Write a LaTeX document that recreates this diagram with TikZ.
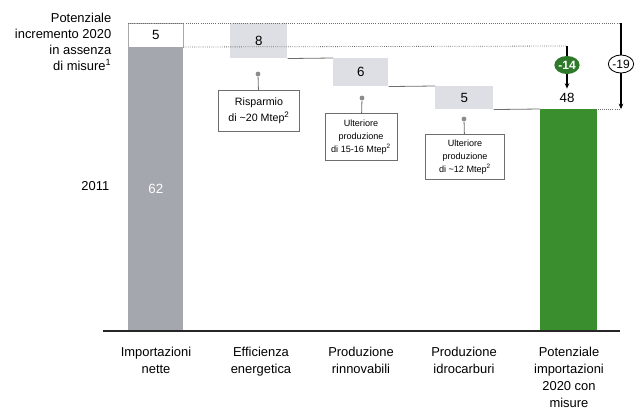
\documentclass[tikz,border=0pt]{standalone}
\usepackage{fontspec}
\setmainfont{Liberation Sans}
\usepackage{tikz}
\usetikzlibrary{arrows.meta,shapes.geometric}
\definecolor{importc}{HTML}{A4A7AD}
\definecolor{stepc}{HTML}{DDDFE4}
\definecolor{finalc}{HTML}{3B8E2E}
\definecolor{deltac}{HTML}{2E7A2A}
\definecolor{linec}{HTML}{6E6E6E}
% box between two pixel corners: name, x1, y1, x2, y2, style, text
\newcommand{\wfbox}[7]{%
  \node[#6,anchor=north west,inner sep=0pt,
        minimum width={(#4-#2)*0.75pt},minimum height={(#5-#3)*0.75pt}]
        (#1) at (#2,#3) {#7};
}

\begin{document}
\begin{tikzpicture}[x=0.75pt,y=-0.75pt,
  val/.style={font=\fontsize{10}{12}\selectfont},
  note/.style={draw=linec,line width=0.5pt,fill=white,align=center,inner sep=1pt},
  pinend/.style={circle,fill=linec!80,inner sep=0pt,minimum size=3.6pt},
  lvl/.style={linec,densely dotted,line width=0.6pt},
  stepline/.style={linec,line width=0.6pt},
  axislbl/.style={anchor=north,align=center,font=\fontsize{9.7}{12.8}\selectfont},
  delta/.style={ellipse,inner sep=0pt,minimum width=19pt,minimum height=13.5pt,font=\fontsize{9}{10}\selectfont}]
  \useasboundingbox (0,0) rectangle (635,411);
  % left notes
  \node[anchor=east,align=right,font=\fontsize{9.7}{12}\selectfont] (gap)
    at (116,42) {Potenziale\\incremento 2020\\in assenza\\di misure\textsuperscript{1}};
  \node[anchor=east,font=\fontsize{9.7}{12}\selectfont] (year) at (114,186) {2011};
  % bars and steps
  \wfbox{top}{128}{23}{183}{47}{draw=linec!60,fill=white,val}{5}
  \wfbox{imp}{128}{47}{183}{331}{fill=importc,text=white,val}{62}
  \wfbox{eff}{230}{23}{287}{58}{fill=stepc,val}{8}
  \wfbox{ren}{333}{58}{388}{86}{fill=stepc,val}{6}
  \wfbox{hyd}{435}{86}{493}{109}{fill=stepc,val}{5}
  \wfbox{fin}{540}{109}{597}{331}{fill=finalc}{}
  \draw[stepline] (eff.south east) -- (ren.north west);
  \draw[stepline] (ren.south east) -- (hyd.north west);
  \draw[stepline] (hyd.south east) -- (fin.north west);
  % totals
  \node[val] (res) at (567,98) {48};
  \coordinate (t14) at (567,46);
  \coordinate (t19) at (621,23);
  \coordinate (h19) at (621,109);
  \draw[lvl] (top.north west) -- (t19);
  \draw[lvl] (imp.north east) -- (t14);
  \draw[lvl] (fin.north east) -- (h19);
  \node[delta,fill=deltac,text=white,font=\fontsize{9}{10}\selectfont\bfseries] (d14) at (567,65) {-14};
  \node[delta,draw,fill=white,line width=0.6pt] (d19) at (621,64) {-19};
  \draw[line width=0.9pt] (t14) -- (d14);
  \draw[line width=0.9pt,-{Stealth[length=4pt,width=3.5pt]}] (d14) -- (res);
  \draw[line width=0.8pt] (t19) -- (d19);
  \draw[line width=0.8pt,-{Stealth[length=4pt,width=3.5pt]}] (d19) -- (h19);
  % callouts
  \node[pinend] (p1) at (258,74) {};
  \node[pinend] (p2) at (362,98) {};
  \node[pinend] (p3) at (464,119) {};
  \node[note,minimum width=61pt,minimum height=31pt,font=\fontsize{8}{12}\selectfont]
    (c1) at (259,111) {Risparmio\\di \textasciitilde20 Mtep\textsuperscript{2}};
  \node[note,minimum width=54pt,minimum height=35pt,font=\fontsize{6.8}{9.7}\selectfont]
    (c2) at (361,137) {Ulteriore\\produzione\\di 15-16 Mtep\textsuperscript{2}};
  \node[note,minimum width=59pt,minimum height=34pt,font=\fontsize{6.8}{9.7}\selectfont]
    (c3) at (465,157) {Ulteriore\\produzione\\di \textasciitilde12 Mtep\textsuperscript{2}};
  \draw[stepline] (p1) -- (c1);
  \draw[stepline] (p2) -- (c2);
  \draw[stepline] (p3) -- (c3);
  % axis
  \coordinate (ax0) at (103,331);
  \coordinate (ax1) at (620,331);
  \draw[line width=0.9pt,black!85] (ax0) -- (ax1);
  \foreach \x/\nm/\txt in {156/l1/{Importazioni\\nette},261/l2/{Efficienza\\energetica},
      361/l3/{Produzione\\rinnovabili},464/l4/{Produzione\\idrocarburi},
      569/l5/{Potenziale\\importazioni\\2020 con\\misure}}
    \node[axislbl] (\nm) at (\x,342) {\txt};
\end{tikzpicture}
\end{document}
